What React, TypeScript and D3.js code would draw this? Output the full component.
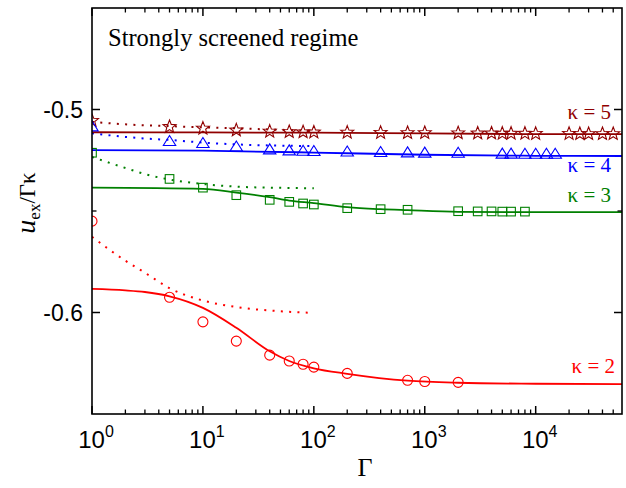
import React from "react";
import * as d3 from "d3";

// ---------- data ----------
const X_TICKS = [1, 10, 100, 1000, 10000];
const X_TICK_EXP = ["0", "1", "2", "3", "4"];
const Y_TICKS = [-0.5, -0.6];
const Y_MINOR = [-0.55];

// MD markers
const G_K5 = [1, 5, 10, 20, 40, 60, 80, 100, 200, 400, 700, 1000, 2000, 3000, 4000, 5000, 6000, 8000, 10000, 20000, 25000, 30000, 40000, 50000];
const U_K5 = [-0.5055, -0.5085, -0.5093, -0.5102, -0.5108, -0.511, -0.5111, -0.5112, -0.5113, -0.5114, -0.5115, -0.5115, -0.5116, -0.5117, -0.5117, -0.5118, -0.5118, -0.5118, -0.5119, -0.5119, -0.512, -0.512, -0.512, -0.512];

const G_K4 = [1, 5, 10, 20, 40, 60, 80, 100, 200, 400, 700, 1000, 2000, 5000, 6000, 8000, 10000, 12500, 15000];
const U_K4 = [-0.5089, -0.5161, -0.5171, -0.5188, -0.5202, -0.5207, -0.5209, -0.521, -0.5213, -0.5215, -0.5217, -0.5218, -0.5219, -0.5223, -0.5223, -0.5224, -0.5224, -0.5224, -0.5224];

const G_K3 = [1, 5, 10, 20, 40, 60, 80, 100, 200, 400, 700, 2000, 3000, 4000, 5000, 6000, 8000];
const U_K3 = [-0.5213, -0.5342, -0.5385, -0.5422, -0.5445, -0.5455, -0.5463, -0.5468, -0.5486, -0.5491, -0.5494, -0.5501, -0.5502, -0.5502, -0.5503, -0.5503, -0.5503];

const G_K2 = [1, 5, 10, 20, 40, 60, 80, 100, 200, 700, 1000, 2000];
const U_K2 = [-0.555, -0.5925, -0.6046, -0.6141, -0.621, -0.6239, -0.6255, -0.6269, -0.63, -0.6334, -0.634, -0.6344];

// fit curves (solid)
const FIT_G_K5 = [1, 10, 100, 1000, 10000, 60000];
const FIT_U_K5 = [-0.5112, -0.5113, -0.5114, -0.5118, -0.5121, -0.5121];
const FIT_G_K4 = [1, 10, 100, 1000, 10000, 60000];
const FIT_U_K4 = [-0.52, -0.5203, -0.5212, -0.5223, -0.5228, -0.5229];
const FIT_G_K3 = [1, 10, 20, 40, 60, 100, 200, 400, 700, 2000, 10000, 60000];
const FIT_U_K3 = [-0.5385, -0.5391, -0.5409, -0.5432, -0.5449, -0.5461, -0.5481, -0.5491, -0.5496, -0.5504, -0.5506, -0.5506];
const FIT_G_K2 = [1, 2, 3, 5, 10, 20, 40, 60, 100, 200, 700, 2000, 10000, 60000];
const FIT_U_K2 = [-0.5884, -0.5891, -0.5899, -0.592, -0.5977, -0.6075, -0.6191, -0.6239, -0.6275, -0.6302, -0.6336, -0.6346, -0.6351, -0.6353];

// dotted approximations
const DOT_G = [1, 2, 3, 5, 10, 20, 50, 100];
const DOT_U_K5 = [-0.5061, -0.5073, -0.5078, -0.5082, -0.5088, -0.5093, -0.51, -0.5105];
const DOT_U_K4 = [-0.5117, -0.5135, -0.5143, -0.515, -0.5163, -0.5172, -0.5178, -0.518];
const DOT_U_K3 = [-0.5234, -0.5288, -0.5318, -0.5345, -0.5367, -0.538, -0.5386, -0.5388];
const DOT_U_K2 = [-0.5627, -0.5745, -0.5804, -0.588, -0.5941, -0.5973, -0.5994, -0.6002];

const LABELS = ["κ = 5", "κ = 4", "κ = 3", "κ = 2"];
const LABEL_U = [-0.5048, -0.5308, -0.5455, -0.6296];
const COLORS = ["#900000", "#0000ff", "#008000", "#ff0000"];

// ---------- layout ----------
const W = 626, H = 488;
const L = 92, R = 622, T = 8, B = 414;

const x = d3.scaleLog().domain([1, 60000]).range([L, R]);
const y = d3.scaleLinear().domain([-0.65, -0.45]).range([B, T]);

const line = (gs: number[], us: number[]) =>
  d3.line<number>().x((_, i) => x(gs[i])).y((u) => y(u)).curve(d3.curveMonotoneX)(us) || "";

function starPath(cx: number, cy: number, ro: number, ri: number) {
  const pts: string[] = [];
  for (let k = 0; k < 10; k++) {
    const r = k % 2 === 0 ? ro : ri;
    const a = -Math.PI / 2 + (k * Math.PI) / 5;
    pts.push(`${cx + r * Math.cos(a)},${cy + r * Math.sin(a)}`);
  }
  return "M" + pts.join("L") + "Z";
}
function triPath(cx: number, cy: number) {
  const h = 10, w = 6.2;
  return `M${cx},${cy - (2 * h) / 3}L${cx + w},${cy + h / 3}L${cx - w},${cy + h / 3}Z`;
}

export default function App() {
  const minor: number[] = [];
  for (let e = 0; e <= 4; e++)
    for (let k = 2; k <= 9; k++) {
      const v = k * Math.pow(10, e);
      if (v < 60000) minor.push(v);
    }
  const tickFont = "'Liberation Sans', Arial, sans-serif";
  const serif = "'Liberation Serif', 'Times New Roman', serif";
  const mk = { fill: "none", strokeWidth: 1.1 };
  const dot = { fill: "none", strokeWidth: 2, strokeDasharray: "2 6.3" };
  const sol = { fill: "none", strokeWidth: 1.8 };

  return (
    <svg width={W} height={H} style={{ position: "absolute", left: 0, top: 0, background: "#fff" }}>
      <defs>
        <clipPath id="plot">
          <rect x={L} y={T} width={R - L} height={B - T} />
        </clipPath>
      </defs>
      <rect width={W} height={H} fill="#fff" />
      <g clipPath="url(#plot)">
        <path d={line(DOT_G, DOT_U_K5)} stroke={COLORS[0]} {...dot} />
        <path d={line(DOT_G, DOT_U_K4)} stroke={COLORS[1]} {...dot} />
        <path d={line(DOT_G, DOT_U_K3)} stroke={COLORS[2]} {...dot} />
        <path d={line(DOT_G, DOT_U_K2)} stroke={COLORS[3]} {...dot} />
        <path d={line(FIT_G_K5, FIT_U_K5)} stroke={COLORS[0]} {...sol} />
        <path d={line(FIT_G_K4, FIT_U_K4)} stroke={COLORS[1]} {...sol} />
        <path d={line(FIT_G_K3, FIT_U_K3)} stroke={COLORS[2]} {...sol} />
        <path d={line(FIT_G_K2, FIT_U_K2)} stroke={COLORS[3]} {...sol} />
        {G_K5.map((g, i) => (
          <path key={"s" + i} d={starPath(x(g), y(U_K5[i]), 6.8, 2.9)} stroke={COLORS[0]} {...mk} />
        ))}
        {G_K4.map((g, i) => (
          <path key={"t" + i} d={triPath(x(g), y(U_K4[i]))} stroke={COLORS[1]} {...mk} />
        ))}
        {G_K3.map((g, i) => (
          <rect key={"q" + i} x={x(g) - 4.3} y={y(U_K3[i]) - 4.3} width={8.6} height={8.6} stroke={COLORS[2]} {...mk} />
        ))}
        {G_K2.map((g, i) => (
          <circle key={"c" + i} cx={x(g)} cy={y(U_K2[i])} r={5} stroke={COLORS[3]} {...mk} />
        ))}
      </g>

      <rect x={L} y={T} width={R - L} height={B - T} fill="none" stroke="#000" strokeWidth={1.6} />

      {X_TICKS.map((t) => (
        <g key={"xt" + t}>
          <line x1={x(t)} x2={x(t)} y1={B} y2={B - 8} stroke="#000" strokeWidth={1.5} />
          <line x1={x(t)} x2={x(t)} y1={T} y2={T + 8} stroke="#000" strokeWidth={1.5} />
        </g>
      ))}
      {minor.map((t) => (
        <g key={"xm" + t}>
          <line x1={x(t)} x2={x(t)} y1={B} y2={B - 4.5} stroke="#000" strokeWidth={1.3} />
          <line x1={x(t)} x2={x(t)} y1={T} y2={T + 4.5} stroke="#000" strokeWidth={1.3} />
        </g>
      ))}
      {X_TICKS.map((t, i) => (
        <text key={"xl" + t} x={x(t) + 4} y={448} textAnchor="middle" fontFamily={tickFont} fontSize={24}>
          10<tspan fontSize={16} dy={-11}>{X_TICK_EXP[i]}</tspan>
        </text>
      ))}

      {Y_TICKS.map((t) => (
        <g key={"yt" + t}>
          <line x1={L} x2={L + 8} y1={y(t)} y2={y(t)} stroke="#000" strokeWidth={1.5} />
          <line x1={R} x2={R - 8} y1={y(t)} y2={y(t)} stroke="#000" strokeWidth={1.5} />
          <text x={83} y={y(t)} dy="0.36em" textAnchor="end" fontFamily={tickFont} fontSize={23}>
            {t.toFixed(1)}
          </text>
        </g>
      ))}
      {Y_MINOR.map((t) => (
        <g key={"ym" + t}>
          <line x1={L} x2={L + 4.5} y1={y(t)} y2={y(t)} stroke="#000" strokeWidth={1.3} />
          <line x1={R} x2={R - 4.5} y1={y(t)} y2={y(t)} stroke="#000" strokeWidth={1.3} />
        </g>
      ))}

      <text x={365} y={476} textAnchor="middle" fontFamily={serif} fontSize={26}>Γ</text>
      <text transform="translate(35,203) rotate(-90)" textAnchor="middle" fontFamily={serif} fontSize={23}>
        <tspan fontStyle="italic" fontSize={28}>u</tspan>
        <tspan fontSize={17} dy={5}>ex</tspan>
        <tspan dy={-5}>/Γκ</tspan>
      </text>

      <text x={108} y={46} fontFamily={serif} fontSize={24.5}>Strongly screened regime</text>

      {LABELS.map((lab, i) => (
        <text key={lab} x={i === 3 ? 615 : 611} y={y(LABEL_U[i])} textAnchor="end" fontFamily={serif} fontSize={21} fill={COLORS[i]}>
          {lab}
        </text>
      ))}
    </svg>
  );
}
